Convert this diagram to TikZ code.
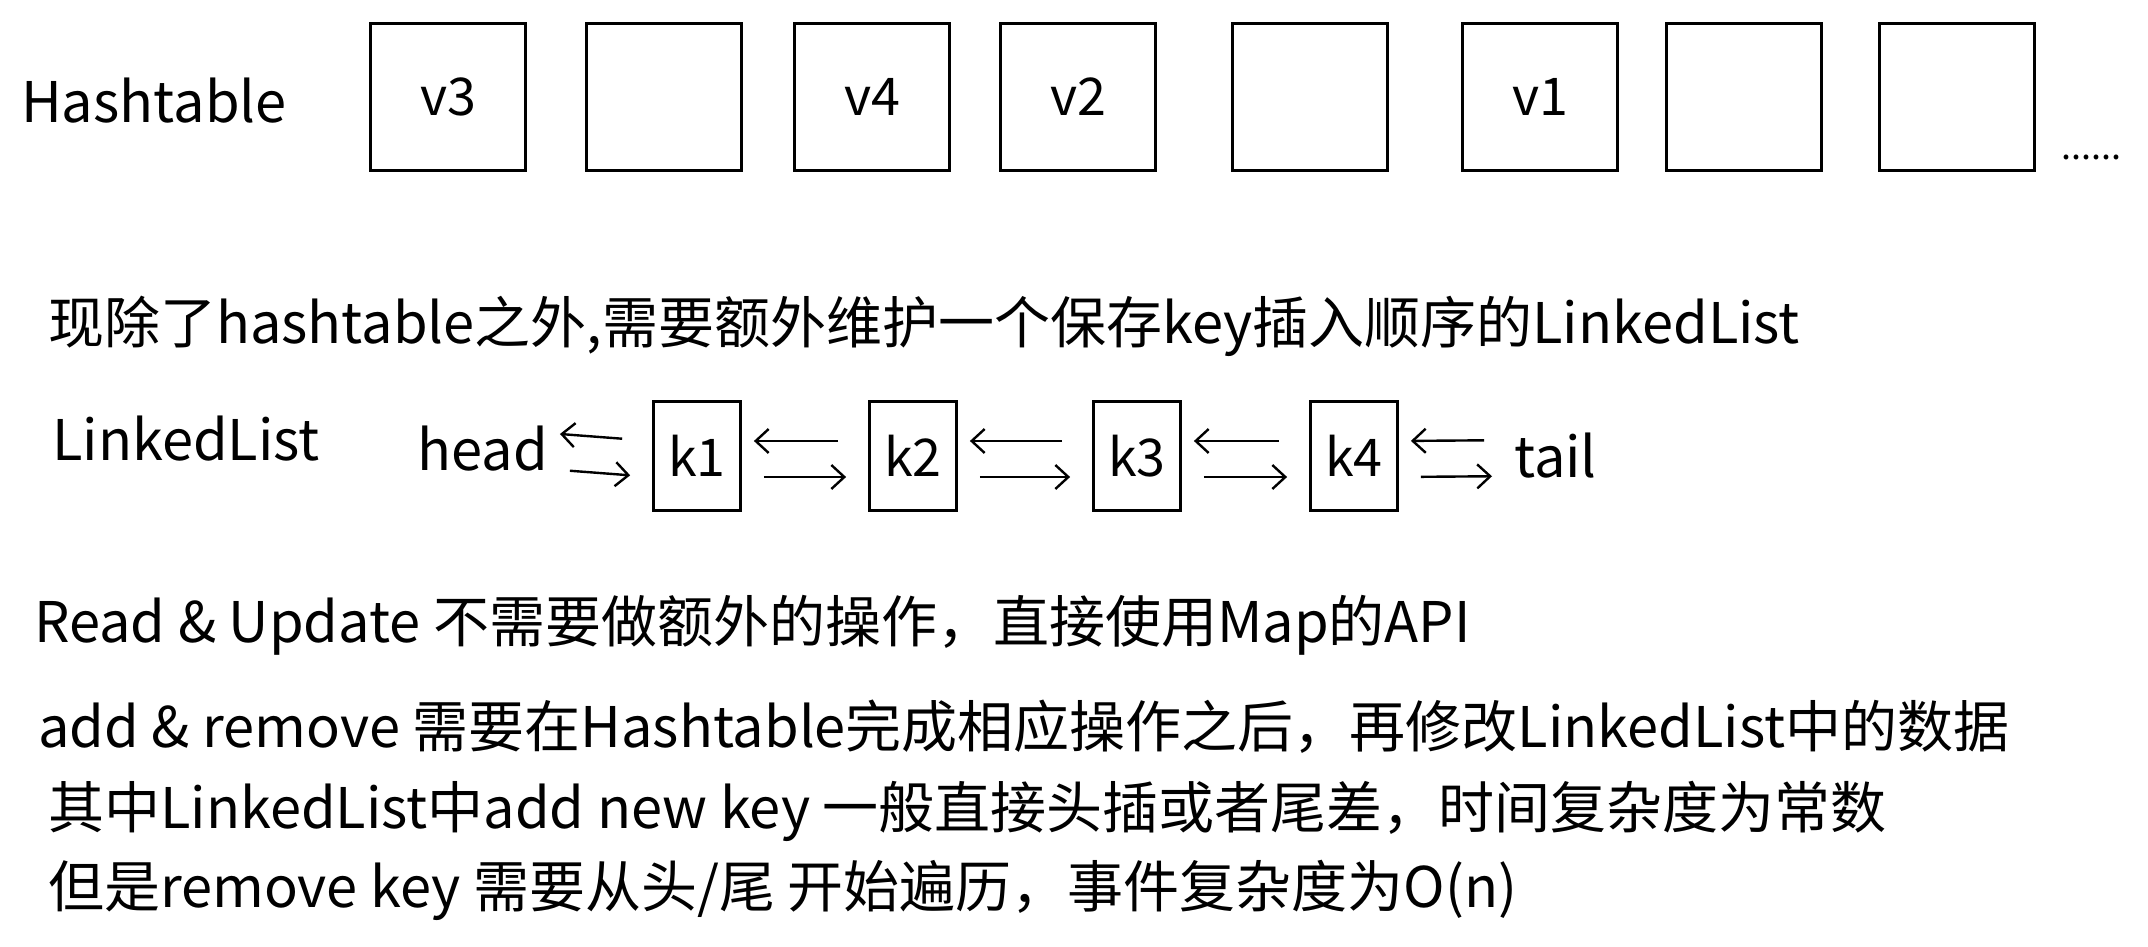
\documentclass[tikz,border=0pt]{standalone}
\usepackage{fontspec}
\setmainfont{Noto Sans CJK SC}
\usetikzlibrary{arrows.meta}
\begin{document}
\begin{tikzpicture}[x=1pt,y=-1pt,
  slot/.style={draw,line width=2.8pt,minimum width=155pt,minimum height=147pt,inner sep=0pt,font=\fontsize{52}{52}\selectfont},
  keybox/.style={draw,line width=2.8pt,minimum width=87pt,minimum height=109pt,inner sep=0pt,font=\fontsize{52}{52}\selectfont},
  txt/.style={anchor=base west,inner sep=0pt,font=\fontsize{56}{56}\selectfont},
  link/.style={-{Straight Barb[length=13pt,width=24pt]},line width=2.4pt}]
  \useasboundingbox (0,0) rectangle (2148,947);
  \node[txt] (hashtable) at (21,123) {Hashtable};
  \foreach \x/\v [count=\i] in {448/v3,664/,872/v4,1078/v2,1310/,1540/v1,1744/,1957/}
    \node[slot] (ht\i) at (\x,97) {\v};
  \node[txt,font=\fontsize{36}{36}\selectfont] (dots) at (2061,160) {......};
  \node[txt] (intro) at (48,343) {现除了hashtable之外,需要额外维护一个保存key插入顺序的LinkedList};
  \node[txt] (listlabel) at (52,460) {LinkedList};
  \node[keybox] (k1) at (697,456) {k1};
  \node[keybox] (k2) at (913,456) {k2};
  \node[keybox] (k3) at (1137,456) {k3};
  \node[keybox] (k4) at (1354,456) {k4};
  \node[txt,anchor=base east] (head) at (548,470) {head};
  \node[txt] (tail) at (1514,477) {tail};
  \foreach \a/\b in {head/k1,k1/k2,k2/k3,k3/k4,k4/tail} {
    \draw[link,shorten <=30pt,shorten >=12pt] ([yshift=15pt]\b.west) -- ([yshift=15pt]\a.east);
    \draw[link,shorten <=22pt,shorten >=22pt] ([yshift=-21pt]\a.east) -- ([yshift=-21pt]\b.west);
  }
  \node[txt] (readline) at (34,642) {Read \& Update 不需要做额外的操作，直接使用Map的API};
  \node[txt] (addline) at (38,747) {add \& remove 需要在Hashtable完成相应操作之后，再修改LinkedList中的数据};
  \node[txt] (newkeyline) at (48,828) {其中LinkedList中add new key 一般直接头插或者尾差，时间复杂度为常数};
  \node[txt] (removeline) at (48,907) {但是remove key 需要从头/尾 开始遍历，事件复杂度为O(n)};
\end{tikzpicture}
\end{document}
